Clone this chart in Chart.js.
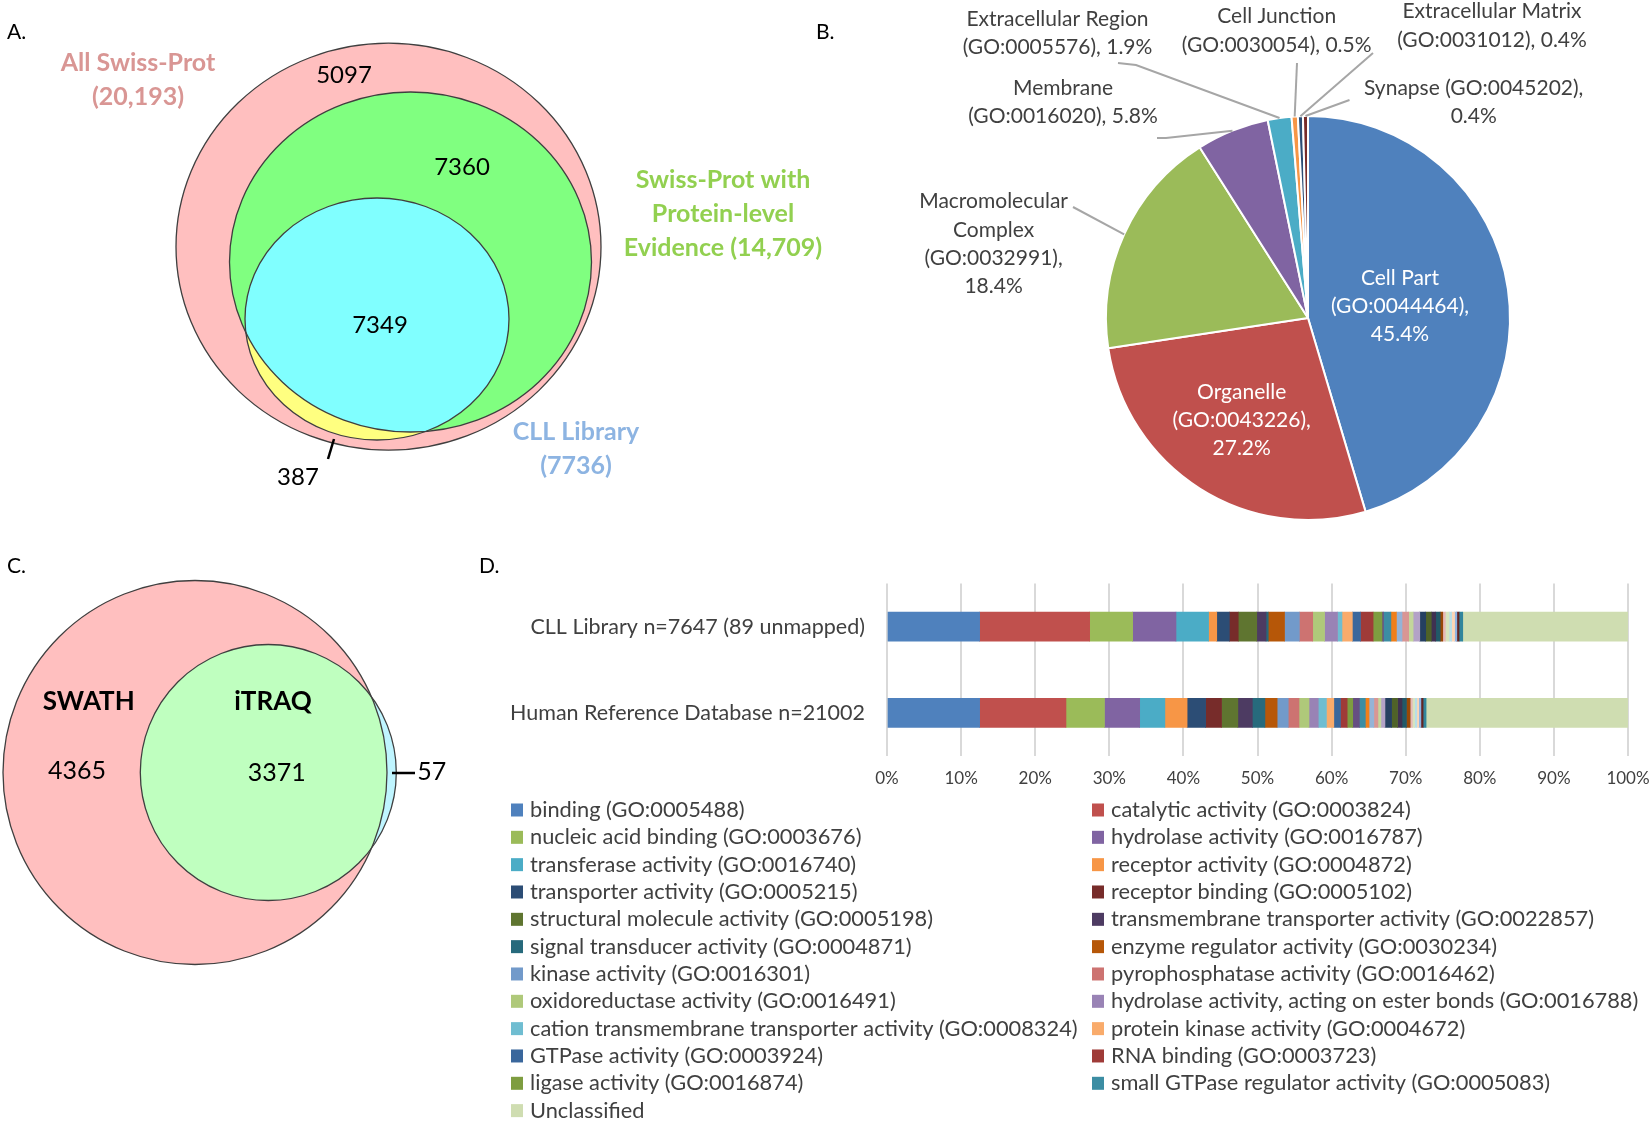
<!DOCTYPE html>
<html>
<head>
<meta charset="utf-8">
<title>CLL library overview</title>
<script src="https://cdn.jsdelivr.net/npm/chart.js@4.4.1/dist/chart.umd.min.js"></script>
<style>
  html, body { margin: 0; padding: 0; background: #fff; }
  body { width: 1652px; height: 1121px; position: relative; overflow: hidden; }
  canvas { position: absolute; }
</style>
</head>
<body>
<canvas id="vennA" width="840" height="520" style="left:0;top:0"></canvas>
<canvas id="pieB" width="852" height="540" style="left:800px;top:0"></canvas>
<canvas id="vennC" width="470" height="440" style="left:0;top:540px"></canvas>
<canvas id="barD" width="1182" height="581" style="left:470px;top:540px"></canvas>
<script>
// Panel A - Swiss-Prot subsets
const vennASetLabels = [['All Swiss-Prot', '(20,193)'], ['Swiss-Prot with', 'Protein-level', 'Evidence (14,709)'], ['CLL Library', '(7736)']];
const vennARegionCounts = [5097, 7360, 7349, 387];

// Panel B - cellular component
const pieNames = ['Cell Part', 'Organelle', 'Macromolecular\nComplex', 'Membrane', 'Extracellular Region', 'Cell Junction', 'Extracellular Matrix', 'Synapse'];
const pieGoIds = ['GO:0044464', 'GO:0043226', 'GO:0032991', 'GO:0016020', 'GO:0005576', 'GO:0030054', 'GO:0031012', 'GO:0045202'];
const pieShares = [45.4, 27.2, 18.4, 5.8, 1.9, 0.5, 0.4, 0.4];

// Panel C - SWATH vs iTRAQ
const vennCSetLabels = ['SWATH', 'iTRAQ'];
const vennCRegionCounts = [4365, 3371, 57];

// Panel D - molecular function
const barCategories = ['CLL Library n=7647 (89 unmapped)', 'Human Reference Database n=21002'];
const funcTerms = [
    'binding (GO:0005488)', 'catalytic activity (GO:0003824)', 'nucleic acid binding (GO:0003676)',
    'hydrolase activity (GO:0016787)', 'transferase activity (GO:0016740)', 'receptor activity (GO:0004872)',
    'transporter activity (GO:0005215)', 'receptor binding (GO:0005102)', 'structural molecule activity (GO:0005198)',
    'transmembrane transporter activity (GO:0022857)', 'signal transducer activity (GO:0004871)', 'enzyme regulator activity (GO:0030234)',
    'kinase activity (GO:0016301)', 'pyrophosphatase activity (GO:0016462)', 'oxidoreductase activity (GO:0016491)',
    'hydrolase activity, acting on ester bonds (GO:0016788)', 'cation transmembrane transporter activity (GO:0008324)', 'protein kinase activity (GO:0004672)',
    'GTPase activity (GO:0003924)', 'RNA binding (GO:0003723)', 'ligase activity (GO:0016874)',
    '', 'small GTPase regulator activity (GO:0005083)', '',
    '', '', '', '', '', '', '', '', '', '', '', '', '', '', '', '',
    'Unclassified'
];
const cllShares = [12.5, 14.85, 5.8, 5.85, 4.4, 1.1, 1.7, 1.2, 2.5, 1.25,
    0.3, 2.2, 2.0, 1.8, 1.6, 1.75, 0.6, 1.4, 1.1, 1.7,
    1.2, 0.2, 1.0, 0.75, 0.75, 0.9, 0.6, 0.9, 0.8, 0.75,
    0.6, 0.6, 0.35, 0.35, 0.5, 0.35, 0.4, 0.3, 0.3, 0.5,
    22.3];
const humanShares = [12.5, 11.65, 5.2, 4.75, 3.4, 3.0, 2.5, 2.15, 2.2, 1.95,
    1.7, 1.65, 1.5, 1.45, 1.35, 1.25, 1.1, 1.0, 0.9, 0.9,
    0.75, 0.9, 0.8, 0.5, 0.65, 0.55, 0.4, 0.55, 0.9, 0.8,
    0.6, 0.6, 0.5, 0.3, 0.3, 0.3, 0.25, 0.3, 0.3, 0.4,
    27.25];

// Styles
const FONT = 'Lato, "Open Sans", sans-serif';
const TEXT_GRAY = '#404040';
const pieColors = ['#4F81BD', '#C0504D', '#9BBB59', '#8064A2', '#4BACC6', '#F79646', '#2C4D75', '#772C2A'];
const funcColors = ['#4F81BD', '#C0504D', '#9BBB59', '#8064A2', '#4BACC6', '#F79646',
    '#2C4D75', '#772C2A', '#5F7530', '#4D3B62', '#276A7C', '#B65708',
    '#729ACA', '#CD7371', '#AFC97A', '#9983B5', '#6FBDD1', '#F9AB6B',
    '#3A679C', '#9F3B38', '#7E9D40', '#664F82', '#3C8DA3', '#F07F1A',
    '#95B3D7', '#D99694', '#C3D69B', '#B3A2C7', '#254061', '#4F6228',
    '#3F3151', '#215968', '#984807', '#E6B9B8', '#D7E4BD', '#B7DEE8',
    '#FCD5B5', '#8EB4E3', '#632523', '#31859C', '#CFDDB1'];

Chart.defaults.font.family = FONT;
Chart.defaults.animation = false;
Chart.defaults.events = [];
Chart.defaults.responsive = false;
Chart.defaults.plugins.legend.display = false;
Chart.defaults.plugins.tooltip.enabled = false;

// Venn shapes, drawn in the chart's own (pixel-like) data units
const vennPlugin = {
    id: 'venn',
    beforeDatasetsDraw(chart, args, opts) {
        const { ctx, scales: { x, y } } = chart;
        const trace = s => {
            const cx = x.getPixelForValue(s.cx), cy = y.getPixelForValue(s.cy);
            ctx.beginPath();
            ctx.ellipse(cx, cy, Math.abs(x.getPixelForValue(s.cx + s.rx) - cx),
                Math.abs(y.getPixelForValue(s.cy + s.ry) - cy), 0, 0, Math.PI * 2);
        };
        ctx.save();
        opts.shapes.forEach(s => {
            trace(s);
            ctx.fillStyle = s.fill;
            ctx.fill();
            if (s.clipTo !== undefined) {
                ctx.save();
                trace(opts.shapes[s.clipTo]);
                ctx.clip();
                trace(s);
                ctx.fillStyle = s.clipFill;
                ctx.fill();
                ctx.restore();
            }
        });
        ctx.strokeStyle = '#3F3F3F';
        ctx.lineWidth = 1.3;
        opts.shapes.forEach(s => { trace(s); ctx.stroke(); });

        // pointer ticks for the small regions
        ctx.strokeStyle = '#000';
        ctx.lineWidth = 2.5;
        opts.pointers.forEach(p => {
            ctx.beginPath();
            ctx.moveTo(x.getPixelForValue(p[0]), y.getPixelForValue(p[1]));
            ctx.lineTo(x.getPixelForValue(p[2]), y.getPixelForValue(p[3]));
            ctx.stroke();
        });
        ctx.restore();
    },
    afterDatasetsDraw(chart) {
        const { ctx } = chart;
        ctx.save();
        ctx.textBaseline = 'middle';
        chart.data.datasets.forEach((ds, di) => {
            chart.getDatasetMeta(di).data.forEach((pt, i) => {
                ctx.font = ds.font;
                ctx.fillStyle = ds.colors[i];
                ctx.textAlign = ds.align;
                ds.texts[i].forEach((t, k) => ctx.fillText(t, pt.x, pt.y + k * ds.lineHeight));
            });
        });
        ctx.restore();
    }
};

function textSet(pos, texts, font, colors, align, lineHeight) {
    return {
        data: pos.map(p => ({ x: p[0], y: p[1] })),
        texts, font, colors,
        align: align || 'center',
        lineHeight: lineHeight || 0,
        pointRadius: 0
    };
}

function vennChart(id, w, h, layout, datasets) {
    return new Chart(document.getElementById(id), {
        type: 'scatter',
        data: { datasets },
        options: {
            layout: { padding: 0, autoPadding: false },
            scales: {
                x: { type: 'linear', min: 0, max: w, display: false },
                y: { type: 'linear', min: 0, max: h, reverse: true, display: false }
            },
            plugins: { venn: layout }
        },
        plugins: [vennPlugin]
    });
}

// Panel A
const vennALayout = {
    shapes: [
        { cx: 388.5, cy: 246.7, rx: 212.5, ry: 203.5, fill: '#FFBFBF' },
        { cx: 410.5, cy: 262, rx: 181, ry: 170, fill: '#80FF80' },
        { cx: 377, cy: 319, rx: 132, ry: 121, fill: '#FFFF80', clipTo: 1, clipFill: '#80FFFF' }
    ],
    pointers: [[334, 439, 328, 459]]
};
vennChart('vennA', 840, 520, vennALayout, [
    textSet([[7, 32]], [['A.']], '21px ' + FONT, ['#000'], 'left'),
    textSet([[138, 63], [723, 180], [576, 432]], vennASetLabels, 'bold 25px ' + FONT,
        ['#D99694', '#92D050', '#8DB4E2'], 'center', 34),
    textSet([[344, 75], [462, 167], [380, 325], [298, 477]], vennARegionCounts.map(v => [String(v)]),
        '24px ' + FONT, vennARegionCounts.map(() => '#000'))
]);

// Panel C
const vennCLayout = {
    shapes: [
        { cx: 195, cy: 232.5, rx: 192, ry: 192, fill: '#FFBFBF' },
        { cx: 268.3, cy: 232.5, rx: 128, ry: 128, fill: '#BFF5FF', clipTo: 0, clipFill: '#BFFFBF' }
    ],
    pointers: [[392, 233, 415, 233]]
};
vennChart('vennC', 470, 440, vennCLayout, [
    textSet([[7, 26]], [['C.']], '21px ' + FONT, ['#000'], 'left'),
    textSet([[88.7, 162], [273, 162]], vennCSetLabels.map(s => [s]), 'bold 26px ' + FONT, ['#000', '#000']),
    textSet([[77, 231], [276.7, 233], [431.7, 232]], vennCRegionCounts.map(v => [String(v)]),
        '25px ' + FONT, ['#000', '#000', '#000'])
]);

// Panel B
const pieLabelLayout = [
    { at: [600, 278], fmt: '{n}\n({g}),\n{v}%', color: '#FFFFFF' },
    { at: [441.7, 392], fmt: '{n}\n({g}),\n{v}%', color: '#FFFFFF' },
    { at: [193.6, 201.7], fmt: '{n}\n({g}),\n{v}%', leader: [[273, 207]] },
    { at: [263, 88.3], fmt: '{n}\n({g}), {v}%', leader: [[366, 138], [357, 138]] },
    { at: [257.5, 19.3], fmt: '{n}\n({g}), {v}%', leader: [[336, 65], [318, 63]] },
    { at: [476.7, 16.7], fmt: '{n}\n({g}), {v}%', leader: [[497, 63]] },
    { at: [692, 11.7], fmt: '{n}\n({g}), {v}%', leader: [[573, 53]] },
    { at: [673.7, 88.3], fmt: '{n} ({g}),\n{v}%', leader: [[549.5, 100]] }
];

const pieLabelPlugin = {
    id: 'pieLabels',
    afterDatasetsDraw(chart, args, opts) {
        const { ctx } = chart;
        const arcs = chart.getDatasetMeta(0).data;
        ctx.save();
        ctx.textBaseline = 'middle';
        ctx.textAlign = 'center';
        ctx.font = '21px ' + FONT;
        opts.items.forEach((item, i) => {
            const { x, y, startAngle, endAngle, outerRadius } =
                arcs[i].getProps(['x', 'y', 'startAngle', 'endAngle', 'outerRadius'], true);
            if (item.leader) {
                const mid = (startAngle + endAngle) / 2;
                ctx.beginPath();
                ctx.moveTo(x + Math.cos(mid) * outerRadius, y + Math.sin(mid) * outerRadius);
                item.leader.forEach(p => ctx.lineTo(p[0], p[1]));
                ctx.strokeStyle = '#A6A6A6';
                ctx.lineWidth = 2;
                ctx.stroke();
            }
            const text = item.fmt.replace('{n}', chart.data.labels[i])
                .replace('{g}', pieGoIds[i])
                .replace('{v}', chart.data.datasets[0].data[i].toFixed(1));
            ctx.fillStyle = item.color || TEXT_GRAY;
            text.split('\n').forEach((t, k) => ctx.fillText(t, item.at[0], item.at[1] + k * 28.3));
        });
        ctx.fillStyle = '#000';
        ctx.textAlign = 'left';
        ctx.fillText('B.', 16, 32);
        ctx.restore();
    }
};

new Chart(document.getElementById('pieB'), {
    type: 'pie',
    data: {
        labels: pieNames,
        datasets: [{ data: pieShares, backgroundColor: pieColors, borderColor: '#FFFFFF', borderWidth: 2 }]
    },
    options: {
        layout: { padding: { left: 305, right: 141, top: 115, bottom: 19 }, autoPadding: false },
        plugins: { pieLabels: { items: pieLabelLayout } }
    },
    plugins: [pieLabelPlugin]
});

// Panel D
const termLegendPlugin = {
    id: 'termLegend',
    afterDraw(chart, args, opts) {
        const { ctx } = chart;
        ctx.save();
        ctx.font = '21.8px ' + FONT;
        ctx.textBaseline = 'middle';
        ctx.textAlign = 'left';
        let k = 0;
        chart.data.datasets.forEach(ds => {
            if (!ds.label) return;
            const bx = opts.columns[k % 2];
            const cy = opts.top + Math.floor(k / 2) * opts.rowHeight;
            ctx.fillStyle = ds.backgroundColor;
            ctx.fillRect(bx, cy - 6.5, 12, 13);
            ctx.fillStyle = TEXT_GRAY;
            ctx.fillText(ds.label, bx + 19, cy);
            k++;
        });
        ctx.fillStyle = '#000';
        ctx.font = '21px ' + FONT;
        ctx.fillText('D.', 9, 26);
        ctx.restore();
    }
};

new Chart(document.getElementById('barD'), {
    type: 'bar',
    data: {
        labels: barCategories,
        datasets: funcTerms.map((label, i) => ({
            label,
            data: [cllShares[i], humanShares[i]],
            backgroundColor: funcColors[i],
            borderWidth: 0,
            barThickness: 29
        }))
    },
    options: {
        indexAxis: 'y',
        layout: { padding: { left: 0, right: 24, top: 43.5, bottom: 325 } },
        scales: {
            x: {
                stacked: true, min: 0, max: 100,
                ticks: { stepSize: 10, callback: v => v + '%', font: { size: 17 }, color: TEXT_GRAY, padding: 12 },
                grid: { color: '#D9D9D9', lineWidth: 2, drawTicks: false },
                border: { display: false },
                afterFit: s => { s.height = 40; s.paddingLeft = 0; s.paddingRight = 0; }
            },
            y: {
                stacked: true,
                ticks: { font: { size: 21.5 }, color: TEXT_GRAY, padding: 22 },
                grid: { display: false, drawTicks: false },
                border: { display: false },
                afterFit: s => { s.width = 417; }
            }
        },
        plugins: { termLegend: { columns: [41, 622], top: 270, rowHeight: 27.33 } }
    },
    plugins: [termLegendPlugin]
});
</script>
</body>
</html>
